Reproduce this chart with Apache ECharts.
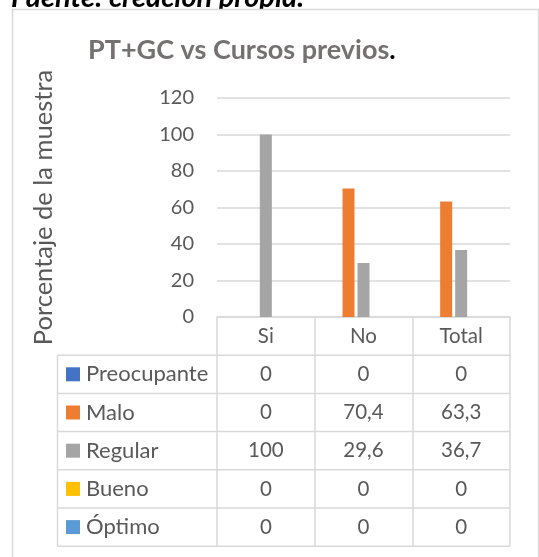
<!DOCTYPE html>
<html>
<head>
<meta charset="utf-8">
<script src="https://cdn.jsdelivr.net/npm/echarts@6/dist/echarts.min.js"></script>
<style>
  html, body { margin: 0; padding: 0; background: #ffffff; }
  #chart { width: 539px; height: 557px; }
</style>
</head>
<body>
<div id="chart"></div>
<script>
// Categories on the x axis
const categories = ['Si', 'No', 'Total'];

// Percentage of the sample per rating, one array per series
const seriesNames = ['Preocupante', 'Malo', 'Regular', 'Bueno', 'Óptimo'];
const preocupante = [0, 0, 0];
const malo = [0, 70.4, 63.3];
const regular = [100, 29.6, 36.7];
const bueno = [0, 0, 0];
const optimo = [0, 0, 0];

// Value axis ticks
const yMin = 0;
const yMax = 120;
const yStep = 20;

const seriesValues = [preocupante, malo, regular, bueno, optimo];
const palette = ['#4472C4', '#ED7D31', '#A5A5A5', '#FFC000', '#5B9BD5'];

const FONT = 'Lato, "Noto Sans", sans-serif';
const TEXT = '#595959';
const LINE = '#d9d9d9';
const TABLE_ROW = 38.2;
const TABLE_LEFT = 57.5;

const chart = echarts.init(document.getElementById('chart'), null, { renderer: 'canvas' });

const fmt = v => String(v).replace('.', ',');

chart.setOption({
  animation: false,
  backgroundColor: '#ffffff',
  title: {
    text: '{a|PT+GC vs Cursos previos}{b|.}',
    left: 83,
    top: 32,
    textStyle: {
      rich: {
        a: { fontFamily: FONT, fontWeight: 'bold', fontSize: 27, color: '#767171' },
        b: { fontFamily: FONT, fontWeight: 'bold', fontSize: 27, color: '#000000' }
      }
    }
  },
  legend: {
    orient: 'vertical',
    left: 66,
    top: 360.3,
    padding: 0,
    itemWidth: 14,
    itemHeight: 14,
    itemGap: TABLE_ROW - 28,
    icon: 'rect',
    selectedMode: false,
    data: seriesNames,
    textStyle: { fontFamily: FONT, fontSize: 22, color: TEXT, lineHeight: 24, padding: [0, 0, 4, 1] }
  },
  grid: { left: 217, right: 29, top: 98, bottom: 240, containLabel: false },
  xAxis: {
    type: 'category',
    data: categories,
    axisLine: { show: true, lineStyle: { color: LINE, width: 1.5 } },
    axisTick: { show: true, interval: 0, length: TABLE_ROW * 6, lineStyle: { color: LINE, width: 1.5 } },
    axisLabel: { fontFamily: FONT, fontSize: 20.5, color: TEXT, margin: 9 }
  },
  yAxis: {
    type: 'value',
    min: yMin,
    max: yMax,
    interval: yStep,
    name: 'Porcentaje de la muestra',
    nameLocation: 'middle',
    nameRotate: 90,
    nameGap: 160,
    nameTextStyle: { fontFamily: FONT, fontSize: 25.5, color: TEXT },
    axisLine: { show: false },
    axisTick: { show: false },
    axisLabel: { fontFamily: FONT, fontSize: 20, color: TEXT, margin: 23 },
    splitLine: { lineStyle: { color: LINE, width: 1.5 } }
  },
  series: seriesNames.map((name, i) => ({
    name: name,
    type: 'bar',
    data: seriesValues[i],
    barWidth: 12,
    barGap: '25%',
    itemStyle: { color: palette[i] }
  }))
});

// Data table under the plot, aligned on the category axis
function drawTable() {
  const c0 = chart.convertToPixel({ xAxisIndex: 0 }, categories[0]);
  const c1 = chart.convertToPixel({ xAxisIndex: 0 }, categories[1]);
  const band = c1 - c0;
  const rightEdge = c0 - band / 2 + band * categories.length;
  const axisY = chart.convertToPixel({ yAxisIndex: 0 }, yMin);
  const headerBottom = axisY + TABLE_ROW;

  const g = [];
  // source note above the chart box (its lower part is hidden by the box)
  g.push({
    type: 'text', silent: true, z: -2,
    style: {
      text: 'Fuente: creación propia.', x: 11, y: -2.5,
      font: 'italic bold 29px ' + FONT, fill: '#000000',
      align: 'left', verticalAlign: 'middle'
    }
  });
  // chart box
  g.push({
    type: 'rect', silent: true, z: -1,
    shape: { x: 12.5, y: 9.5, width: 526, height: 620 },
    style: { fill: '#ffffff', stroke: LINE, lineWidth: 1.5 }
  });
  // horizontal table rules
  for (let r = 0; r <= seriesNames.length; r++) {
    const y = headerBottom + r * TABLE_ROW;
    g.push({
      type: 'line', silent: true,
      shape: { x1: TABLE_LEFT, y1: y, x2: rightEdge, y2: y },
      style: { stroke: LINE, lineWidth: 1.5 }
    });
  }
  // left edge of the legend column
  g.push({
    type: 'line', silent: true,
    shape: { x1: TABLE_LEFT, y1: headerBottom, x2: TABLE_LEFT, y2: headerBottom + seriesNames.length * TABLE_ROW },
    style: { stroke: LINE, lineWidth: 1.5 }
  });
  // cell values
  seriesValues.forEach((vals, r) => {
    const y = headerBottom + (r + 0.5) * TABLE_ROW;
    vals.forEach((v, c) => {
      g.push({
        type: 'text', silent: true,
        style: {
          text: fmt(v),
          x: chart.convertToPixel({ xAxisIndex: 0 }, categories[c]),
          y: y,
          font: '20.5px ' + FONT, fill: TEXT,
          align: 'center', verticalAlign: 'middle'
        }
      });
    });
  });
  chart.setOption({ graphic: g });
}
drawTable();
</script>
</body>
</html>
